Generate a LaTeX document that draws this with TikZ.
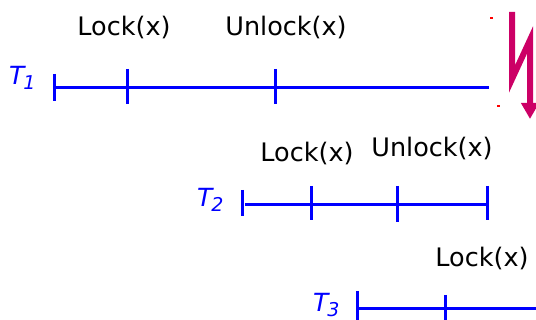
\documentclass[tikz,border=0pt]{standalone}
\usepackage{fontspec}
\setmainfont{DejaVu Sans}
\usetikzlibrary{arrows.meta}
\definecolor{tblue}{RGB}{0,0,255}
\definecolor{bolt}{RGB}{204,0,102}
\definecolor{tick}{RGB}{255,0,0}
\newcommand{\tname}[1]{{\fontsize{25}{28}\selectfont\itshape T\kern-1pt\smash{\raisebox{-5pt}{\fontsize{19}{20}\selectfont #1}}}}
\begin{document}
\begin{tikzpicture}[x=1pt,y=-1pt,
  tline/.style={draw=tblue,line width=3pt},
  opname/.style={anchor=base,inner sep=0pt,font=\fontsize{25.5}{28}\selectfont},
  tlabel/.style={anchor=base west,inner sep=0pt,text=tblue}]
\useasboundingbox (0,0) rectangle (536,320);
% T1
\node[tlabel] (t1) at (9,85) {\tname{1}};
\coordinate (a0) at (54,88); \coordinate (a1) at (127,88);
\coordinate (a2) at (275,88); \coordinate (a3) at (489,88);
\draw[tline] (a0) ++(0,-14) coordinate (a0t) -- ++(0,27) coordinate (a0b);
\draw[tline] (56,88) -- (a3);
\draw[tline] (a1) ++(0,-19) -- ++(0,35);
\draw[tline] (a2) ++(0,-19) -- ++(0,35);
\node[opname] (l1) at (124,36) {Lock(x)};
\node[opname] (u1) at (286,36) {Unlock(x)};
% T2
\node[tlabel] (t2) at (197,207) {\tname{2}};
\coordinate (b0) at (242,205); \coordinate (b1) at (311,205);
\coordinate (b2) at (397,205); \coordinate (b3) at (487,205);
\draw[tline] (b0) ++(0,-15) -- ++(0,26);
\draw[tline] (245,205) -- (b3);
\draw[tline] (b1) ++(0,-19) -- ++(0,34);
\draw[tline] (b2) ++(0,-19) -- ++(0,36);
\draw[tline] (b3) ++(0,-19) -- ++(0,34);
\node[opname] (l2) at (307,162) {Lock(x)};
\node[opname] (u2) at (432,157) {Unlock(x)};
% T3
\node[tlabel] (t3) at (313,312) {\tname{3}};
\coordinate (c0) at (357,309); \coordinate (c1) at (445,309);
\coordinate (c2) at (536,309);
\draw[tline] (c0) ++(0,-18) -- (357,320);
\draw[tline] (359,309) -- (c2);
\draw[tline] (c1) ++(0,-14) -- (445,320);
\node[opname] (l3) at (482,267) {Lock(x)};
% lightning bolt
\coordinate (z0) at (512,12); \coordinate (z1) at (512,79);
\coordinate (z2) at (530,40); \coordinate (z3) at (530,119);
\draw[bolt,line width=6pt,line join=miter,-{Triangle[width=17pt,length=16pt]}] (z0) -- (z1) -- (z2) -- (z3);
% small red marks
\draw[tick,line width=1.5pt] (490,18) -- (493,18);
\draw[tick,line width=1.5pt] (497,106) -- (500,106);
\end{tikzpicture}
\end{document}
